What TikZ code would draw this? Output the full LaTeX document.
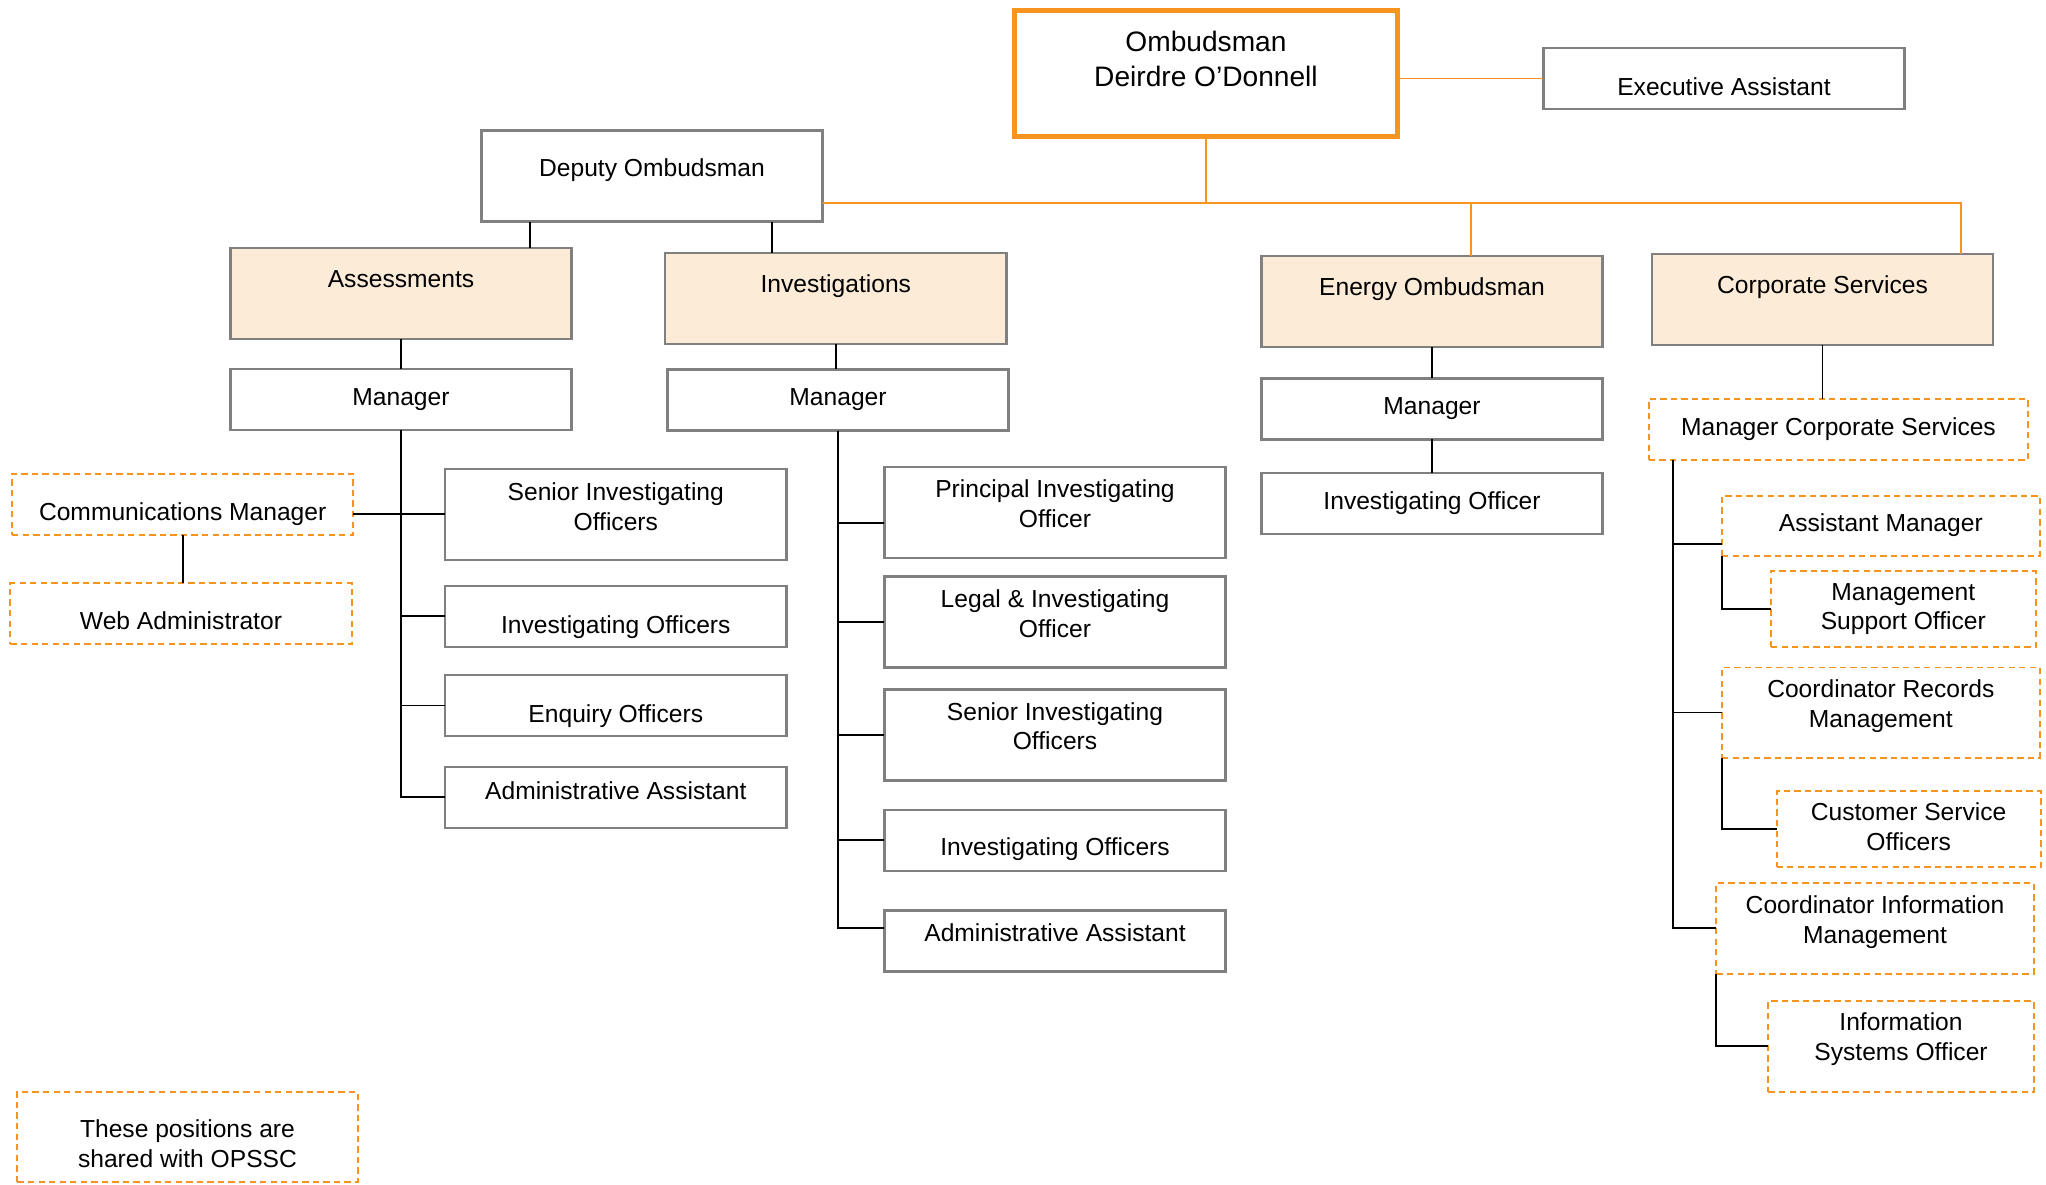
\documentclass[tikz,border=0pt]{standalone}
\usepackage{fontspec}
\setmainfont{Liberation Sans}
\usetikzlibrary{positioning,calc}
\definecolor{ombor}{RGB}{247,148,30}
\definecolor{unitfill}{RGB}{252,235,215}
\definecolor{boxgray}{RGB}{128,128,128}
\tikzset{
  post/.style={rectangle, draw=boxgray, line width=0.7pt, fill=white, align=center,
    inner sep=0pt, outer sep=0pt, text height=5pt, text depth=1.6pt},
  unit/.style={post, fill=unitfill},
  shared/.style={post, draw=ombor, line width=0.55pt, dash pattern=on 1.8pt off 1.2pt},
  one/.style={minimum width=3.41cm, minimum height=0.61cm},
  two/.style={minimum width=3.41cm, minimum height=0.91cm},
  pair/.style={text height=13.5pt},
  lift/.style={text depth=#1},
  sink/.style={text height=#1},
  wire/.style={draw=black, line width=0.55pt},
  owire/.style={draw=ombor, line width=0.55pt},
}

\begin{document}
\begin{tikzpicture}[x=0.01cm, y=-0.01cm, font=\fontsize{7}{8.5}\selectfont]
  \useasboundingbox (0,0) rectangle (2046,1184);
  \node[post, draw=ombor, line width=1.4pt, minimum width=3.82cm, minimum height=1.26cm,
        font=\fontsize{8}{10}\selectfont, text height=15.7pt, text depth=8.6pt]
        (omb) at (1206,73.7) {Ombudsman\\Deirdre O’Donnell};
  \node[post, minimum width=3.61cm, minimum height=0.61cm, sink=11.3pt] (exec) at (1724,78.5) {Executive Assistant};
  \node[post, two, line width=1pt, lift=4.5pt] (dep) at (652,176) {Deputy Ombudsman};
  \node[unit, two, lift=8.4pt] (assess) at (401,293.4) {Assessments};
  \node[unit, two, lift=8.4pt] (invest) at (835.8,298.5) {Investigations};
  \node[unit, two, lift=8.4pt] (energy) at (1432,301.5) {Energy Ombudsman};
  \node[unit, two, lift=8.4pt] (corp) at (1822.5,299.6) {Corporate Services};
  \node[post, one] (mgrA) at (401,399.4) {Manager};
  \node[post, one] (mgrI) at (838,400) {Manager};
  \node[post, one] (mgrE) at (1432,408.8) {Manager};
  \node[post, one] (ioE) at (1432,503.7) {Investigating Officer};
  \node[shared, minimum width=3.79cm, minimum height=0.61cm] (mcs) at (1838.5,429.5) {Manager Corporate Services};

  \node[post, two, pair, lift=4.5pt] (sioA) at (615.8,514.3) {Senior Investigating\\Officers};
  \node[post, one, sink=11.3pt] (ioA) at (615.8,616.3) {Investigating Officers};
  \node[post, one, sink=11pt] (eoA) at (615.8,705.5) {Enquiry Officers};
  \node[post, one, lift=3.9pt] (aaA) at (615.8,797.4) {Administrative Assistant};

  \node[post, two, pair, lift=5pt] (pio) at (1055,512.3) {Principal Investigating\\Officer};
  \node[post, two, pair, lift=4.5pt] (lio) at (1055,622) {Legal \& Investigating\\Officer};
  \node[post, two, pair, lift=5pt] (sioI) at (1055,735) {Senior Investigating\\Officers};
  \node[post, one, sink=10.1pt] (ioI) at (1055,840.3) {Investigating Officers};
  \node[post, one, lift=4.5pt] (aaI) at (1055,941) {Administrative Assistant};

  \node[shared, one, sink=10.7pt] (comm) at (182.7,504.3) {Communications Manager};
  \node[shared, one, sink=10.7pt] (web) at (181,613.8) {Web Administrator};
  \node[shared, minimum width=3.4cm, minimum height=0.9cm, sink=18.9pt] (note) at (187.5,1136.7) {These positions are\\shared with OPSSC};

  \node[shared, minimum width=3.175cm, minimum height=0.6cm] (am) at (1880.8,526) {Assistant Manager};
  \node[shared, pair, minimum width=2.645cm, minimum height=0.76cm] (mso) at (1903.3,609) {Management\\Support Officer};
  \node[shared, pair, minimum width=3.175cm, minimum height=0.9cm, lift=5pt] (crm) at (1880.8,712.5) {Coordinator Records\\Management};
  \node[shared, pair, minimum width=2.64cm, minimum height=0.76cm] (cso) at (1908.6,829.4) {Customer Service\\Officers};
  \node[shared, pair, minimum width=3.17cm, minimum height=0.907cm, lift=5pt] (cim) at (1875,928.4) {Coordinator Information\\Management};
  \node[shared, pair, minimum width=2.65cm, minimum height=0.906cm, lift=5.6pt] (iso) at (1901,1046.3) {Information\\Systems Officer};

  \coordinate (bus) at (1206,203);
  \draw[owire] (omb.south) -- (bus);
  \draw[owire] (omb.east |- exec.west) -- (exec.west);
  \draw[owire] (dep.east |- bus) -| ([xshift=-0.32cm]corp.north east);
  \draw[owire] ([xshift=0.39cm]energy.north) -- ([xshift=0.39cm]energy.north |- bus);

  \draw[wire] ([xshift=-1.22cm]dep.south) -- ([xshift=-1.22cm]dep.south |- assess.north);
  \draw[wire] ([xshift=1.2cm]dep.south) -- ([xshift=1.2cm]dep.south |- invest.north);
  \draw[wire] (assess) -- (mgrA);
  \draw[wire] (invest.south) -- (invest.south |- mgrI.north);
  \draw[wire] (energy) -- (mgrE);
  \draw[wire] (mgrE) -- (ioE);
  \draw[wire] (corp.south) -- (corp.south |- mcs.north);

  \foreach \nm in {sioA,ioA,eoA,aaA} \draw[wire] (mgrA.south) |- (\nm.west);
  \draw[wire] (comm.east |- sioA.west) -- (sioA.west);
  \draw[wire] (comm.south) -- (comm.south |- web.north);

  \foreach \nm in {lio,sioI,ioI} \draw[wire] (mgrI.south) |- (\nm.west);
  \draw[wire] (mgrI.south) |- ([yshift=-0.11cm]pio.west);
  \draw[wire] (mgrI.south) |- ([yshift=0.13cm]aaI.west);

  \coordinate (cs) at ([xshift=0.24cm]mcs.south west);
  \draw[wire] (cs) |- ([yshift=0.12cm]am.south west);
  \foreach \nm in {crm,cim} \draw[wire] (cs) |- (\nm.west);
  \draw[wire] (am.south west) |- (mso.west);
  \draw[wire] (crm.south west) |- (cso.west);
  \draw[wire] (cim.south west) |- (iso.west);
\end{tikzpicture}
\end{document}
